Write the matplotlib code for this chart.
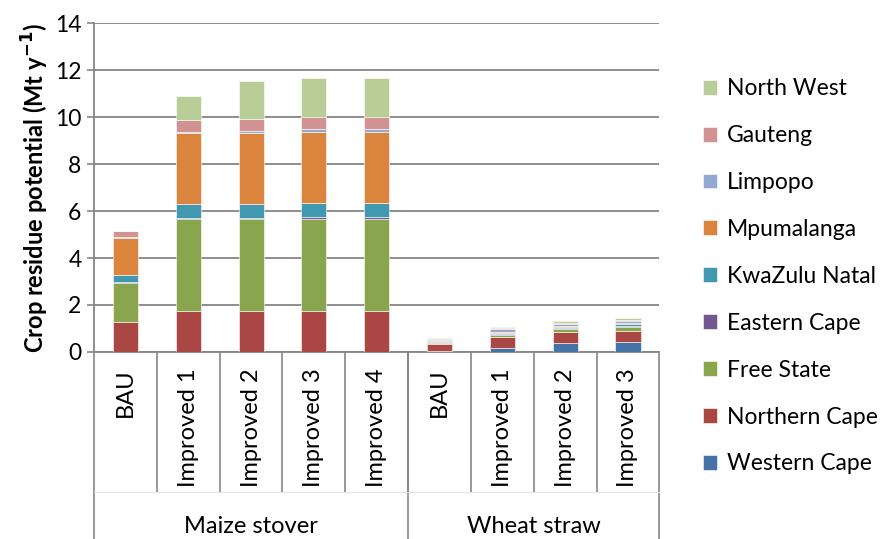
import numpy as np
import matplotlib.pyplot as plt

plt.rcParams['font.family'] = ['Lato', 'DejaVu Sans']

# categories along the x axis
scenarios = ["BAU", "Improved 1", "Improved 2", "Improved 3", "Improved 4",
             "BAU", "Improved 1", "Improved 2", "Improved 3"]
groups = ["Maize stover", "Wheat straw"]
group_sizes = [5, 4]

# provinces, bottom of the stack first
provinces = ["Western Cape", "Northern Cape", "Free State", "Eastern Cape",
             "KwaZulu Natal", "Mpumalanga", "Limpopo", "Gauteng", "North West"]
colors = ["#4572A7", "#AA4643", "#89A54E", "#71588F", "#4198AF",
          "#DB843D", "#93A9CF", "#D19392", "#B9CD96"]

# Mt per year, one value per scenario
western_cape  = [0.00, 0.00, 0.00, 0.00, 0.00, 0.02, 0.17, 0.37, 0.41]
northern_cape = [1.29, 1.76, 1.76, 1.76, 1.76, 0.31, 0.47, 0.48, 0.50]
free_state    = [1.66, 3.89, 3.89, 3.91, 3.91, 0.04, 0.08, 0.12, 0.14]
eastern_cape  = [0.05, 0.06, 0.06, 0.07, 0.07, 0.02, 0.03, 0.03, 0.04]
kwazulu_natal = [0.29, 0.57, 0.59, 0.60, 0.60, 0.05, 0.07, 0.08, 0.10]
mpumalanga    = [1.57, 3.03, 3.01, 3.04, 3.04, 0.01, 0.03, 0.04, 0.04]
limpopo       = [0.03, 0.07, 0.11, 0.10, 0.10, 0.07, 0.12, 0.09, 0.10]
gauteng       = [0.25, 0.49, 0.48, 0.51, 0.51, 0.02, 0.03, 0.03, 0.03]
north_west    = [0.01, 1.05, 1.65, 1.67, 1.67, 0.04, 0.08, 0.08, 0.08]

series = [western_cape, northern_cape, free_state, eastern_cape, kwazulu_natal,
          mpumalanga, limpopo, gauteng, north_west]

grey = "#868686"
fig = plt.figure(figsize=(8.82, 5.39), dpi=100)
ax = fig.add_axes([0.1066, 0.347, 0.6410, 0.610])

x = np.arange(len(scenarios))
bottom = np.zeros(len(scenarios))
handles = []
for name, vals, c in zip(provinces, series, colors):
    vals = np.array(vals)
    b = ax.bar(x, vals, 0.4, bottom=bottom, color=c, label=name,
               edgecolor="white", linewidth=0.4, zorder=3)
    handles.append(b)
    bottom += vals

ax.set_xlim(-0.5, len(scenarios) - 0.5)
ax.set_ylim(0, 14)
ax.set_yticks(range(0, 15, 2))
ax.tick_params(axis="y", labelsize=16.5, length=5, color=grey, width=1.2, pad=4)
ax.set_xticks([])
ax.grid(axis="y", color=grey, linewidth=1.3, zorder=0)
for s in ["top", "right"]:
    ax.spines[s].set_visible(False)
for s in ["left", "bottom"]:
    ax.spines[s].set_color(grey)
    ax.spines[s].set_linewidth(1.3)

ax.set_ylabel("Crop residue potential (Mt y$^{\\mathbf{-1}}$)", fontsize=17,
              fontweight="bold", labelpad=3)

# category labels and separators below the axis
tr = ax.get_xaxis_transform()
for i, lab in enumerate(scenarios):
    ax.text(i, -0.05, lab, rotation=90, ha="center", va="top",
            fontsize=17, transform=tr)
for i in range(1, len(scenarios)):
    ax.plot([i - 0.5, i - 0.5], [0, -0.426], color=grey, lw=1.2,
            transform=tr, clip_on=False)
edges = np.concatenate([[0], np.cumsum(group_sizes)]) - 0.5
for e in edges:
    ax.plot([e, e], [0, -0.6], color=grey, lw=1.2, transform=tr, clip_on=False)
ax.plot([edges[0], edges[-1]], [-0.426, -0.426], color="#e4e4e4", lw=0.8,
        transform=tr, clip_on=False)
for g, a, b in zip(groups, edges[:-1], edges[1:]):
    ax.text((a + b) / 2, -0.53, g, ha="center", va="center",
            fontsize=17, transform=tr)

fig.legend(handles[::-1], provinces[::-1], loc="upper left",
           bbox_to_anchor=(0.784, 0.876), frameon=False, fontsize=16.5,
           handlelength=0.62, handleheight=0.62, handletextpad=0.42,
           labelspacing=1.13, borderpad=0)

fig.savefig("out.png", dpi=100)
